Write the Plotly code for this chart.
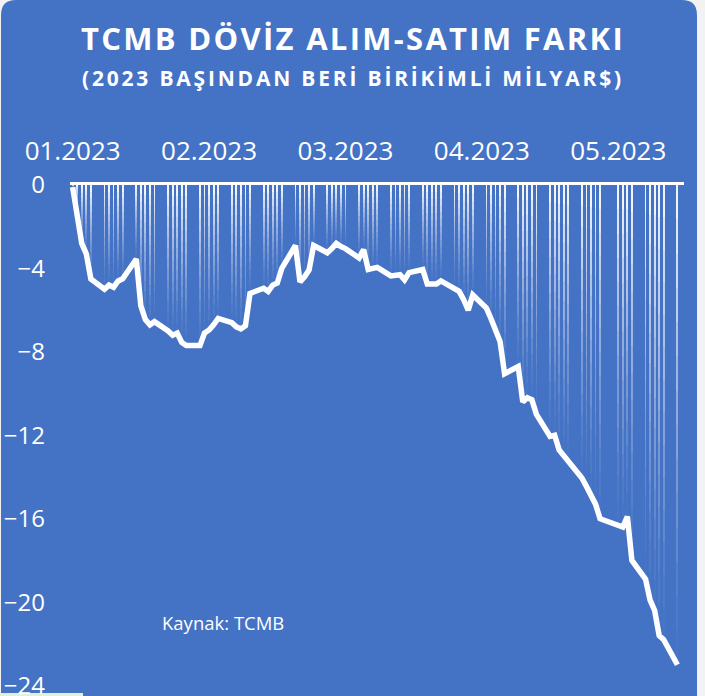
import plotly.graph_objects as go
import pandas as pd

# --- data: cumulative TCMB FX buy-sell balance since start of 2023 (billion $) ---
holidays = ["2023-05-01"]
dates = [d for d in pd.bdate_range("2023-01-02", "2023-05-15") if d.strftime("%Y-%m-%d") not in holidays]

values = [
    -0.1, -1.4, -2.8, -3.3, -4.5,        # Jan 2-6
    -5.0, -4.8, -4.9, -4.6, -4.5,        # Jan 9-13
    -3.55, -5.8, -6.45, -6.7, -6.55,     # Jan 16-20
    -7.0, -7.2, -7.1, -7.55, -7.7,       # Jan 23-27
    -7.7, -7.1, -6.95, -6.7, -6.4,       # Jan 30-Feb 3
    -6.6, -6.8, -6.9, -6.75, -5.2,       # Feb 6-10
    -4.95, -5.1, -4.8, -4.7, -4.0,       # Feb 13-17
    -2.9, -4.65, -4.4, -4.07, -2.9,      # Feb 20-24
    -3.25, -3.05, -2.8, -2.95, -3.05,    # Feb 27-Mar 3
    -3.5, -3.1, -4.05, -4.0, -3.95,      # Mar 6-10
    -4.36, -4.33, -4.3, -4.55, -4.2,     # Mar 13-17
    -4.05, -4.75, -4.75, -4.75, -4.6,    # Mar 20-24
    -4.97, -5.1, -5.5, -6.0, -5.27,      # Mar 27-31
    -5.9, -6.4, -6.9, -7.5, -9.05,       # Apr 3-7
    -8.7, -10.4, -10.2, -10.3, -11.0,    # Apr 10-14
    -12.05, -12.0, -12.7, -12.95, -13.3, # Apr 17-21
    -14.05, -14.45, -14.9, -15.3, -16.0, # Apr 24-28
    -16.3, -16.4, -15.9, -18.0,          # May 2-5
    -18.9, -19.9, -20.4, -21.6, -21.8,   # May 8-12
    -23.0,                               # May 15
]

title = "TCMB DÖVİZ ALIM-SATIM FARKI"
subtitle = "(2023 BAŞINDAN BERİ BİRİKİMLİ MİLYAR$)"
source = "Kaynak: TCMB"

BLUE = "#4472C4"
FONT = "Open Sans, sans-serif"

# plot area in pixels (used to place decorations in paper coords)
W, H = 705, 696
L, R, T, B = 70, 684, 185, 686


def px(x, y):
    return (x - L) / (R - L), (B - y) / (B - T)


fig = go.Figure()

# thin white bars fading downwards: each bar split into stacked slices
N = 14
for k in range(N):
    alpha = 0.92 * (1 - k / N) ** 1.4
    fig.add_trace(go.Bar(
        x=dates,
        y=[v / N for v in values],
        base=[v * k / N for v in values],
        width=0.4 * 86400000,
        marker=dict(color=f"rgba(255,255,255,{alpha:.3f})", line_width=0),
        hoverinfo="skip",
        showlegend=False,
    ))

fig.add_trace(go.Scatter(
    x=dates, y=values, mode="lines",
    line=dict(color="white", width=5.5),
    showlegend=False,
))

# blue panel with rounded top corners
r = 15
pts = [px(1, 720), px(1, r), px(1, 0), px(1 + r, 0), px(697 - r, 0), px(697, 0), px(697, r), px(697, 720)]
path = (f"M {pts[0][0]},{pts[0][1]} L {pts[1][0]},{pts[1][1]} Q {pts[2][0]},{pts[2][1]} {pts[3][0]},{pts[3][1]} "
        f"L {pts[4][0]},{pts[4][1]} Q {pts[5][0]},{pts[5][1]} {pts[6][0]},{pts[6][1]} L {pts[7][0]},{pts[7][1]} Z")
g0, g1 = px(0, 693), px(83, 700)

fig.update_layout(
    width=W, height=H,
    margin=dict(l=L, r=W - R, t=T, b=H - B),
    paper_bgcolor="#F2F2F2",
    plot_bgcolor="rgba(0,0,0,0)",
    barmode="overlay",
    bargap=0,
    font=dict(family=FONT, color="white"),
    shapes=[
        dict(type="path", xref="paper", yref="paper", path=path,
             fillcolor=BLUE, line_width=0, layer="below"),
        dict(type="rect", xref="paper", yref="paper",
             x0=g0[0], y0=g0[1], x1=g1[0], y1=g1[1],
             fillcolor="#E2EFDA", line_width=0, layer="below"),
    ],
    annotations=[
        dict(text=f"<b><span style='letter-spacing:2.3px'>{title}</span></b>",
             x=px(353, 0)[0], y=px(0, 38)[1], xref="paper", yref="paper",
             showarrow=False, xanchor="center", yanchor="middle",
             font=dict(size=31, color="white", family=FONT)),
        dict(text=f"<b><span style='letter-spacing:2.8px'>{subtitle}</span></b>",
             x=px(353, 0)[0], y=px(0, 78)[1], xref="paper", yref="paper",
             showarrow=False, xanchor="center", yanchor="middle",
             font=dict(size=21, color="white", family=FONT)),
        dict(text=source, x=px(160, 0)[0], y=px(0, 622)[1], xref="paper", yref="paper",
             showarrow=False, xanchor="left", yanchor="middle",
             font=dict(size=18.5, color="white", family=FONT)),
    ],
)

fig.update_xaxes(
    type="date", side="top", automargin=False,
    range=["2023-01-01 10:00", "2023-05-16 11:00"],
    tick0="2023-01-02", dtick=30 * 86400000, tickformat="%m.%Y",
    showgrid=False, zeroline=False, ticks="",
    showline=True, linecolor="white", linewidth=3,
    tickfont=dict(size=26, color="white"),
    ticklabelstandoff=12,
)
fig.update_yaxes(
    automargin=False,
    range=[-24.02, 0], tick0=0, dtick=4,
    showgrid=False, zeroline=False, ticks="",
    tickfont=dict(size=24, color="white"),
    ticklabelstandoff=24,
    ticklabeloverflow="allow",
)

fig.write_html("out.html", config={"displayModeBar": False},
               post_script="document.body.style.margin='0';")
